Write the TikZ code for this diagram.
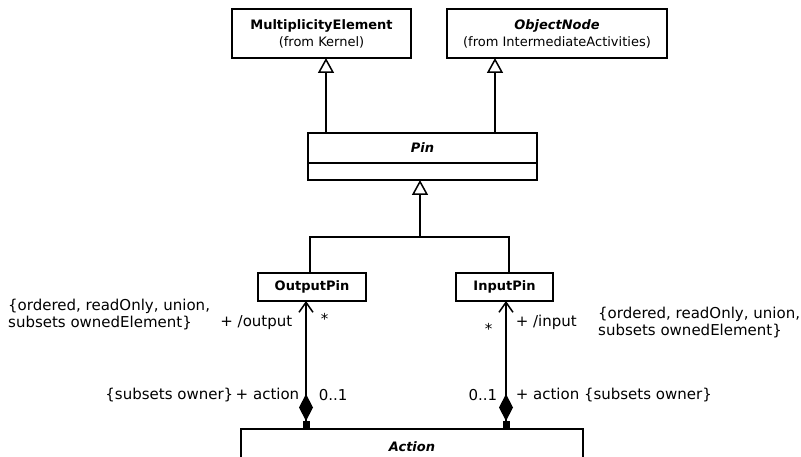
\documentclass[tikz,border=0pt]{standalone}
\usepackage{fontspec}
\setmainfont{DejaVu Sans}
\usetikzlibrary{arrows.meta,positioning}

\begin{document}
\begin{tikzpicture}[
      x=1pt, y=-1pt,
      cls/.style={draw, line width=1.5pt, outer sep=0pt, inner sep=2pt, align=center,
        font=\fontsize{13}{17}\selectfont},
      gen/.style={-{Triangle[open, length=15pt, width=16pt]}, line width=1.5pt},
      assoc/.style={{Square[length=8pt, width=7pt, sep=0pt]Diamond[length=27pt, width=14pt]}-{Straight Barb[length=10pt, width=14pt]}, line width=1.5pt},
      lbl/.style={font=\fontsize{15}{17}\selectfont, inner sep=0pt}
    ]
  \useasboundingbox (0,0) rectangle (801,457);
  % classes
  \node[cls, minimum width=179pt, minimum height=49pt] (multel) at (321.5,33.5) {\textbf{MultiplicityElement}\\(from Kernel)};
  \node[cls, minimum width=220pt, minimum height=49pt] (objnode) at (557,33.5) {\textbf{\textit{ObjectNode}}\\(from IntermediateActivities)};
  \node[cls, minimum width=229pt, minimum height=30pt] (pin) at (422.5,148) {\textbf{\textit{Pin}}};
  \node[cls, minimum width=229pt, minimum height=17pt, below=0pt of pin] (pinattr) {};
  \node[cls, minimum width=108pt, minimum height=28pt] (outpin) at (312,287) {\textbf{OutputPin}};
  \node[cls, minimum width=97pt, minimum height=28pt] (inpin) at (504.5,287) {\textbf{InputPin}};
  \node[cls, draw=none, minimum width=342pt, minimum height=36pt] (action) at (412,447) {\textbf{\textit{Action}}};
  \draw[line width=1.5pt] (action.south west) |- (action.north east) -- (action.south east);

  % generalizations
  \draw[gen] (pin.north -| 326,0) -- (multel.south -| 326,0);
  \draw[gen] (pin.north -| 495,0) -- (objnode.south -| 495,0);
  \coordinate (fork) at (420,237);
  \draw[line width=1.5pt] (outpin.north -| 310,0) |- (fork) -| (inpin.north -| 509,0);
  \draw[gen] (fork) -- (pinattr.south -| fork);

  % compositions
  \draw[assoc] (action.north -| 306,0) --
      node[lbl, pos=0.266, right=12pt] (omult) {0..1}
      node[lbl, pos=0.266, left=6pt] (orole) {\{subsets owner\}\,+ action}
      node[lbl, pos=0.86, right=14pt] (ostar) {*}
      node[lbl, pos=0.83, left=13pt] (oend) {+ /output}
    (outpin.south -| 306,0);
  \node[lbl, align=left, anchor=west] (ocons) at (8,315) {\{ordered, readOnly, union,\\subsets ownedElement\}};

  \draw[assoc] (action.north -| 506,0) --
      node[lbl, pos=0.266, left=8pt] (imult) {0..1}
      node[lbl, pos=0.266, right=9pt] (irole) {+ action \{subsets owner\}}
      node[lbl, pos=0.78, left=13pt] (istar) {*}
      node[lbl, pos=0.83, right=9pt] (iend) {+ /input}
    (inpin.south -| 506,0);
  \node[lbl, align=left, anchor=west] (icons) at (598,323) {\{ordered, readOnly, union,\\subsets ownedElement\}};
\end{tikzpicture}
\end{document}
